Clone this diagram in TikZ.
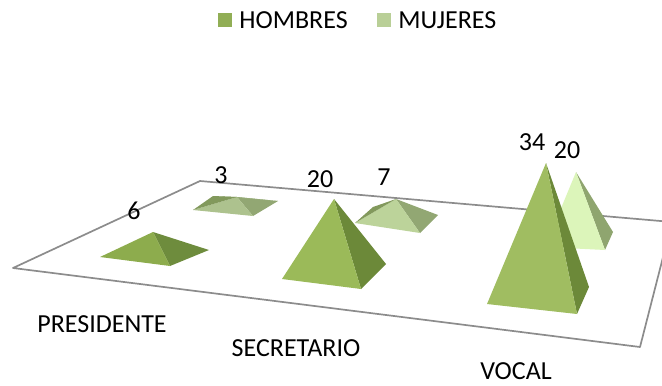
\documentclass[tikz,border=0pt]{standalone}
\usepackage{fontspec}
\setmainfont{Carlito}
\begin{document}
\begin{tikzpicture}[x=0.5pt,y=-0.5pt,
  lbl/.style={font=\fontsize{13}{15}\selectfont, inner sep=0pt, text=black},
  floor/.style={draw=black!45, line width=0.85pt, line join=round},
  face/.style={line join=round}]
\useasboundingbox (0,0) rectangle (662,385);
\definecolor{hL}{HTML}{9BBA59}
\definecolor{hD}{HTML}{6C8939}
\definecolor{pL}{HTML}{8DAC4D}
\definecolor{pD}{HTML}{6E8C3D}
\definecolor{mL}{HTML}{BCD39A}
\definecolor{mD}{HTML}{92A773}
\definecolor{mB}{HTML}{82995C}
\definecolor{vL}{HTML}{DCF5BA}
\definecolor{vD}{HTML}{8FA56F}
\definecolor{legH}{HTML}{91AE55}
\definecolor{legM}{HTML}{B9CF97}
% floor plane
\begin{scope}
\clip (0,0) rectangle (662,385);
\coordinate (f1) at (13,268);
\coordinate (f2) at (200,181);
\coordinate (f3) at (672,222);
\coordinate (f4) at (640,347);
\draw[floor] (f1) -- (f2) -- (f3) -- (f4) -- cycle;
\end{scope}
% PRESIDENTE MUJERES (3)
\coordinate (pmL) at (193,210); \coordinate (pmB) at (213,196);
\coordinate (pmA) at (237,197); \coordinate (pmR) at (278,201);
\coordinate (pmF) at (253,216);
\fill[face,mD] (pmA) -- (pmR) -- (pmF) -- cycle;
\fill[face,mD!85!mL] (pmB) -- (pmR) -- (pmA) -- cycle;
\fill[face,mL!92!black] (pmL) -- (pmA) -- (pmF) -- cycle;
\fill[face,mB] (pmL) -- (pmB) -- (pmA) -- cycle;
% SECRETARIO MUJERES (7)
\coordinate (smL) at (355,223); \coordinate (smB) at (373,207);
\coordinate (smA) at (396,199); \coordinate (smR) at (438,215);
\coordinate (smF) at (420,233);
\fill[face,mD] (smA) -- (smR) -- (smF) -- cycle;
\fill[face,mL] (smL) -- (smA) -- (smF) -- cycle;
\fill[face,mB] (smL) -- (smB) -- (smA) -- cycle;
% VOCAL MUJERES (20)
\coordinate (vmL) at (545,247); \coordinate (vmA) at (576,172);
\coordinate (vmR) at (613,232); \coordinate (vmF) at (605,250);
\fill[face,vD] (vmA) -- (vmR) -- (vmF) -- cycle;
\fill[face,vL] (vmL) -- (vmA) -- (vmF) -- cycle;
% PRESIDENTE HOMBRES (6)
\coordinate (phL) at (100,257); \coordinate (phA) at (153,232);
\coordinate (phR) at (209,250); \coordinate (phF) at (170,266);
\fill[face,pD] (phA) -- (phR) -- (phF) -- cycle;
\fill[face,pL] (phL) -- (phA) -- (phF) -- cycle;
% SECRETARIO HOMBRES (20)
\coordinate (shL) at (282,279); \coordinate (shA) at (334,199);
\coordinate (shR) at (386,264); \coordinate (shF) at (361,289);
\fill[face,hD] (shA) -- (shR) -- (shF) -- cycle;
\fill[face,hL] (shL) -- (shA) -- (shF) -- cycle;
% VOCAL HOMBRES (34)
\coordinate (vhL) at (487,304); \coordinate (vhA) at (546,163);
\coordinate (vhR) at (589,287); \coordinate (vhF) at (577,314);
\fill[face,hD] (vhA) -- (vhR) -- (vhF) -- cycle;
\fill[face,hL!95!white] (vhL) -- (vhA) -- (vhF) -- cycle;
% value labels
\node[lbl] (n6) at (134,211) {6};
\node[lbl] (n3) at (221,175) {3};
\node[lbl] (n20a) at (320,179) {20};
\node[lbl] (n7) at (384,177) {7};
\node[lbl] (n34) at (532,142) {34};
\node[lbl] (n20b) at (567,150) {20};
% category labels
\node[lbl] (cP) at (102,324) {PRESIDENTE};
\node[lbl] (cS) at (296,348) {SECRETARIO};
\node[lbl] (cV) at (516,371) {VOCAL};
% legend
\fill[legH] (218,13) rectangle (232,27);
\node[lbl, anchor=west] (lH) at (239,20) {HOMBRES};
\fill[legM] (377,13) rectangle (391,27);
\node[lbl, anchor=west] (lM) at (398,20) {MUJERES};
\end{tikzpicture}
\end{document}
